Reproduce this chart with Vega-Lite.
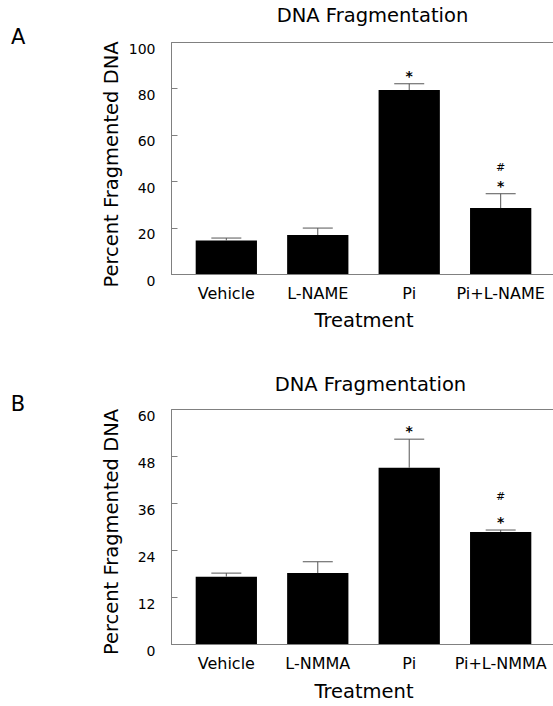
{
  "$schema": "https://vega.github.io/schema/vega-lite/v6.json",
  "padding": {"left": 10, "top": 6, "right": 0, "bottom": 0},
  "spacing": 44,
  "config": {
    "font": "DejaVu Sans",
    "view": {"stroke": "#808080", "strokeWidth": 1},
    "axis": {"domainColor": "#808080", "tickColor": "#808080", "labelColor": "#000000", "titleColor": "#000000", "grid": false, "titleFontWeight": "normal"},
    "title": {"color": "#000000", "fontWeight": "normal"}
  },
  "vconcat": [
    {
      "title": {"text": "DNA Fragmentation", "anchor": "middle", "frame": "bounds", "fontSize": 19.5, "baseline": "alphabetic", "offset": -15, "dx": 89},
      "vconcat": [
        {
          "width": 385,
          "height": 232,
          "title": {"text": "A", "orient": "left", "anchor": "end", "frame": "group", "angle": 0, "align": "right", "baseline": "alphabetic", "fontSize": 21, "offset": 61.5, "dy": 2},
          "encoding": {
            "x": {"field": "treatment", "type": "nominal", "sort": ["Vehicle", "L-NAME", "Pi", "Pi+L-NAME"], "title": "Treatment",
              "scale": {"paddingInner": 0.33, "paddingOuter": 0.27},
              "axis": {"labelAngle": 0, "ticks": false, "labelPadding": 11, "labelFontSize": 16, "titleFontSize": 19.5, "titlePadding": 10}}
          },
          "layer": [
            {
              "data": {"values": [
                {"treatment": "Vehicle", "mean": 14.4, "upper": 15.5},
                {"treatment": "L-NAME", "mean": 16.8, "upper": 19.8},
                {"treatment": "Pi", "mean": 79.3, "upper": 82.0},
                {"treatment": "Pi+L-NAME", "mean": 28.4, "upper": 34.6}
              ]},
              "layer": [
                {
                  "mark": {"type": "bar", "color": "#000000"},
                  "encoding": {"y": {"field": "mean", "type": "quantitative", "title": "Percent Fragmented DNA", "scale": {"domain": [0, 100]},
                    "axis": {"values": [0, 20, 40, 60, 80, 100], "tickSize": -6, "labelPadding": 22, "labelBaseline": "top", "labelFontSize": 14, "titleFontSize": 19.5, "titlePadding": 7, "titleY": 122}}}
                },
                {
                  "mark": {"type": "rule", "color": "#555555", "strokeWidth": 1},
                  "encoding": {"y": {"field": "mean", "type": "quantitative", "title": "Percent Fragmented DNA"}, "y2": {"field": "upper"}}
                },
                {
                  "mark": {"type": "tick", "color": "#555555", "size": 30, "thickness": 1, "opacity": 1},
                  "encoding": {"y": {"field": "upper", "type": "quantitative", "title": "Percent Fragmented DNA"}}
                }
              ]
            },
            {
              "data": {"values": [
                {"treatment": "Pi", "label": "*", "pos": 83.2},
                {"treatment": "Pi+L-NAME", "label": "*", "pos": 35.8}
              ]},
              "mark": {"type": "text", "align": "center", "baseline": "alphabetic", "fontSize": 14, "fontWeight": "bold", "color": "#000000"},
              "encoding": {"y": {"field": "pos", "type": "quantitative", "title": "Percent Fragmented DNA"}, "text": {"field": "label"}}
            },
            {
              "data": {"values": [
                {"treatment": "Pi+L-NAME", "label": "#", "pos": 44.4}
              ]},
              "mark": {"type": "text", "align": "center", "baseline": "alphabetic", "fontSize": 11, "fontWeight": "normal", "color": "#000000"},
              "encoding": {"y": {"field": "pos", "type": "quantitative", "title": "Percent Fragmented DNA"}, "text": {"field": "label"}}
            }
          ]
        }
      ]
    },
    {
      "title": {"text": "DNA Fragmentation", "anchor": "middle", "frame": "bounds", "fontSize": 19.5, "baseline": "alphabetic", "offset": -16.5, "dx": 87},
      "vconcat": [
        {
          "width": 385,
          "height": 235,
          "title": {"text": "B", "orient": "left", "anchor": "end", "frame": "group", "angle": 0, "align": "right", "baseline": "alphabetic", "fontSize": 21, "offset": 61.5, "dy": 2},
          "encoding": {
            "x": {"field": "treatment", "type": "nominal", "sort": ["Vehicle", "L-NMMA", "Pi", "Pi+L-NMMA"], "title": "Treatment",
              "scale": {"paddingInner": 0.33, "paddingOuter": 0.27},
              "axis": {"labelAngle": 0, "ticks": false, "labelPadding": 11.5, "labelFontSize": 16, "titleFontSize": 19.5, "titlePadding": 11}}
          },
          "layer": [
            {
              "data": {"values": [
                {"treatment": "Vehicle", "mean": 17.2, "upper": 18.1},
                {"treatment": "L-NMMA", "mean": 18.1, "upper": 21.0},
                {"treatment": "Pi", "mean": 45.0, "upper": 52.3},
                {"treatment": "Pi+L-NMMA", "mean": 28.6, "upper": 29.1}
              ]},
              "layer": [
                {
                  "mark": {"type": "bar", "color": "#000000"},
                  "encoding": {"y": {"field": "mean", "type": "quantitative", "title": "Percent Fragmented DNA", "scale": {"domain": [0, 60]},
                    "axis": {"values": [0, 12, 24, 36, 48, 60], "tickSize": -6, "labelPadding": 22, "labelBaseline": "top", "labelFontSize": 14, "titleFontSize": 19.5, "titlePadding": 16, "titleY": 122.5}}}
                },
                {
                  "mark": {"type": "rule", "color": "#555555", "strokeWidth": 1},
                  "encoding": {"y": {"field": "mean", "type": "quantitative", "title": "Percent Fragmented DNA"}, "y2": {"field": "upper"}}
                },
                {
                  "mark": {"type": "tick", "color": "#555555", "size": 30, "thickness": 1, "opacity": 1},
                  "encoding": {"y": {"field": "upper", "type": "quantitative", "title": "Percent Fragmented DNA"}}
                }
              ]
            },
            {
              "data": {"values": [
                {"treatment": "Pi", "label": "*", "pos": 53.1},
                {"treatment": "Pi+L-NMMA", "label": "*", "pos": 29.9}
              ]},
              "mark": {"type": "text", "align": "center", "baseline": "alphabetic", "fontSize": 14, "fontWeight": "bold", "color": "#000000"},
              "encoding": {"y": {"field": "pos", "type": "quantitative", "title": "Percent Fragmented DNA"}, "text": {"field": "label"}}
            },
            {
              "data": {"values": [
                {"treatment": "Pi+L-NMMA", "label": "#", "pos": 36.8}
              ]},
              "mark": {"type": "text", "align": "center", "baseline": "alphabetic", "fontSize": 11, "fontWeight": "normal", "color": "#000000"},
              "encoding": {"y": {"field": "pos", "type": "quantitative", "title": "Percent Fragmented DNA"}, "text": {"field": "label"}}
            }
          ]
        }
      ]
    }
  ]
}
